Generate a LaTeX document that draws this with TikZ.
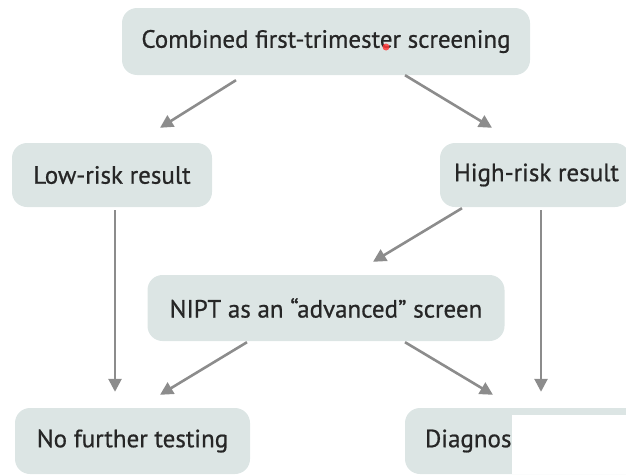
\documentclass[tikz,border=0pt]{standalone}
\usepackage{fontspec}
\setmainfont{PT Sans}[BoldFont=PT Sans,BoldFeatures={FakeBold=0.7}]
\usetikzlibrary{arrows.meta,calc}
\definecolor{boxfill}{HTML}{DCE5E4}
\definecolor{txt}{HTML}{262626}
\definecolor{arrgray}{HTML}{8C8C8C}
\tikzset{
  box/.style={draw=none,fill=boxfill,rounded corners=15pt,text=txt,
    font=\fontsize{25}{29}\selectfont\bfseries,inner sep=0pt,anchor=center},
  arr/.style={draw=arrgray,line width=2.6pt,-{Triangle[length=13pt,width=13pt]}}
}
\begin{document}
\begin{tikzpicture}[x=1pt,y=1pt]
\useasboundingbox (0,0) rectangle (626,-474);
\clip (0,0) rectangle (626,-474);
\node[box,minimum width=408pt,minimum height=67pt] (top) at (326,-41.5) {Combined first-trimester screening};
\node[box,minimum width=200pt,minimum height=64pt] (low) at (112,-175) {Low-risk result};
\node[box,minimum width=190pt,minimum height=64pt] (high) at (535,-175) {\hspace*{3pt}High-risk result};
\node[box,minimum width=357pt,minimum height=66pt] (nipt) at (326,-308) {NIPT as an “advanced” screen};
\node[box,minimum width=235pt,minimum height=66pt] (nofur) at (132.5,-441) {No further testing};
\node[box,minimum width=240pt,minimum height=66pt,text width=200pt,align=left] (diag) at (525,-441) {Diagnos};
\fill[white] (512,-415) rectangle (626,-474);
\fill[red!70!pink,opacity=0.85] (386,-47) circle (3.5pt);
% arrows
\draw[arr] ([xshift=-90pt,yshift=-5pt]top.south) -- ([xshift=48pt,yshift=15pt]low.north);
\draw[arr] ([xshift=79pt,yshift=0pt]top.south) -- ([xshift=-43pt,yshift=15pt]high.north);
\draw[arr] ([xshift=3pt,yshift=-3pt]low.south) -- ([xshift=-17.5pt,yshift=16pt]nofur.north);
\draw[arr] ([xshift=-73pt,yshift=-1pt]high.south) -- ([xshift=47pt,yshift=13pt]nipt.north);
\draw[arr] ([xshift=6pt,yshift=-3pt]high.south) -- ([xshift=16pt,yshift=16pt]diag.north);
\draw[arr] ([xshift=-79pt,yshift=-1pt]nipt.south) -- ([xshift=27.5pt,yshift=13pt]nofur.north);
\draw[arr] ([xshift=79pt,yshift=-1pt]nipt.south) -- ([xshift=-32pt,yshift=13pt]diag.north);
\end{tikzpicture}
\end{document}
